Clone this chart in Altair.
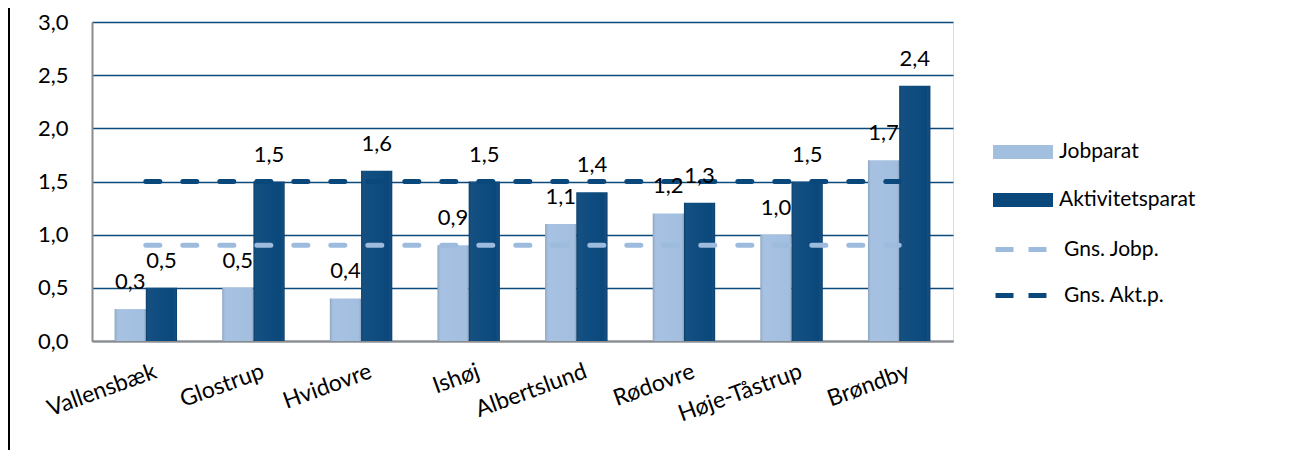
import altair as alt
import pandas as pd

categories = ["Vallensbæk", "Glostrup", "Hvidovre", "Ishøj", "Albertslund",
              "Rødovre", "Høje-Tåstrup", "Brøndby"]
jobparat = [0.3, 0.5, 0.4, 0.9, 1.1, 1.2, 1.0, 1.7]
aktivitetsparat = [0.5, 1.5, 1.6, 1.5, 1.4, 1.3, 1.5, 2.4]
series_names = ["Jobparat", "Aktivitetsparat"]
avg_names = ["Gns. Jobp.", "Gns. Akt.p."]
avg_values = [0.9, 1.5]
y_ticks = [0, 0.5, 1.0, 1.5, 2.0, 2.5, 3.0]

rows = []
for c, j, a in zip(categories, jobparat, aktivitetsparat):
    rows.append({"kommune": c, "serie": series_names[0], "value": j})
    rows.append({"kommune": c, "serie": series_names[1], "value": a})
df = pd.DataFrame(rows)
avg_df = pd.DataFrame({"navn": avg_names, "value": avg_values})

FONT = "Lato"
LIGHT = "#a3bfe0"
DARK = "#0a487c"
GRID = "#0d4a7c"
AVG_LIGHT = "#9dbbdd"

W, H = 861, 319

x_enc = alt.X("kommune:N", sort=categories,
              scale=alt.Scale(domain=categories, paddingInner=0.42, paddingOuter=0.21),
              axis=alt.Axis(title=None, labelAngle=340, labelAlign="right",
                            labelBaseline="top", labelPadding=19, labelFontSize=23,
                            labelFont=FONT, labelColor="#000", ticks=False,
                            domainColor="#8c8c8c", domainWidth=2, grid=False,
                            labelOffset=6))
y_enc = alt.Y("value:Q", scale=alt.Scale(domain=[0, 3], nice=False),
              axis=alt.Axis(title=None, values=y_ticks,
                            labelExpr="replace(format(datum.value, '.1f'), '.', ',')",
                            gridColor=GRID, gridWidth=1.5, domainColor="#8c8c8c",
                            domainWidth=2, ticks=False, labelPadding=24,
                            labelFontSize=22, labelFont=FONT, labelColor="#000"))
xoff = alt.XOffset("serie:N", sort=series_names,
                   scale=alt.Scale(domain=series_names, paddingInner=0, paddingOuter=0))

BAR_PATH = "M-1,-0.47H3V0.47H-1Z"
DASH_PATH = "M-1,0H0.2M1.2,0H2.4"

bars = alt.Chart(df).mark_bar(stroke=None).encode(
    x=x_enc, y=y_enc, xOffset=xoff,
    color=alt.Color("serie:N", sort=series_names,
                    scale=alt.Scale(domain=series_names, range=[LIGHT, DARK]),
                    legend=alt.Legend(title=None, orient="none", legendX=901, legendY=115,
                                      symbolType=BAR_PATH, symbolSize=900,
                                      symbolOffset=0, labelOffset=36, rowPadding=23,
                                      labelFontSize=21, labelFont=FONT, labelColor="#000",
                                      symbolStrokeWidth=0, padding=0)),
)

bevel = alt.Chart(df).mark_bar(
    color=alt.LinearGradient(
        gradient="linear", x1=0, x2=1, y1=0, y2=0,
        stops=[alt.GradientStop(color="rgba(0,0,0,0.15)", offset=0),
               alt.GradientStop(color="rgba(255,255,255,0.04)", offset=0.12),
               alt.GradientStop(color="rgba(255,255,255,0.0)", offset=0.88),
               alt.GradientStop(color="rgba(0,0,0,0.15)", offset=1)])
).encode(x=x_enc, y=y_enc, xOffset=xoff)

labels = alt.Chart(df).transform_calculate(
    lbl="replace(format(datum.value, '.1f'), '.', ',')"
).mark_text(baseline="alphabetic", dy=-20, fontSize=22, font=FONT, color="#000").encode(
    x=x_enc, y=y_enc, xOffset=xoff, text="lbl:N")

avg = alt.Chart(avg_df).mark_rule(strokeWidth=5, strokeDash=[14, 23], strokeCap="round").encode(
    x=alt.datum(categories[0]), x2=alt.datum(categories[-1]), y="value:Q",
    color=alt.Color("navn:N", sort=avg_names,
                    scale=alt.Scale(domain=avg_names, range=[AVG_LIGHT, DARK]),
                    legend=alt.Legend(title=None, orient="none", legendX=901, legendY=210,
                                      symbolType=DASH_PATH, symbolSize=900,
                                      symbolOffset=0, labelOffset=36, rowPadding=18,
                                      labelFontSize=21, labelFont=FONT, labelColor="#000",
                                      symbolStrokeWidth=5, symbolDash=[1000, 0], padding=0)),
)

frame = alt.Chart(avg_df).mark_rule(color="#000", strokeWidth=2).encode(
    x=alt.value(-83), y=alt.value(-14), y2=alt.value(H + 110))

chart = alt.layer(bars, bevel, avg, labels, frame).resolve_scale(
    color="independent"
).properties(
    width=W, height=H,
    autosize=alt.AutoSizeParams(type="none"),
    padding={"left": 84, "top": 14, "right": 320, "bottom": 110},
).configure_view(stroke=None).configure(background="white")

chart.save("out.html", embed_options={"renderer": "svg", "actions": False})
